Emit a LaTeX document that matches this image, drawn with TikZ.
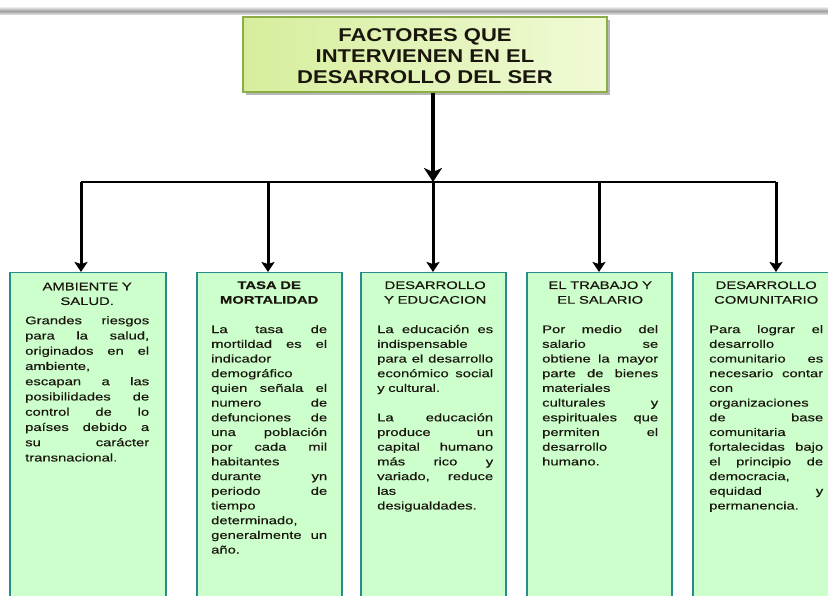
\documentclass[tikz,border=0pt]{standalone}
\usepackage{fontspec}
\usetikzlibrary{arrows.meta,shadows}
\newfontfamily\bodyfont[FakeStretch=1.345,FakeBold=0.4]{Liberation Sans}
\newfontfamily\titlefont[FakeStretch=1.19]{Liberation Sans}
\definecolor{boxfill}{RGB}{204,255,204}
\definecolor{boxline}{RGB}{40,140,140}
\definecolor{titleL}{RGB}{214,238,156}
\definecolor{titleR}{RGB}{240,250,214}
\definecolor{titleline}{RGB}{140,172,70}
\definecolor{txtcol}{RGB}{26,22,14}
\newcommand\Jline[1]{\hbox to\linewidth{\spaceskip=0pt \xspaceskip=0pt #1}}
\newcommand\Lline[1]{\hbox to\linewidth{#1\hfil}}
\newcommand\Cline[1]{\hbox to\linewidth{\hfil#1\hfil}}
\newcommand\Gap{\vskip14.7pt}
\begin{document}
\begin{tikzpicture}[x=1pt,y=-1pt,
  fbox/.style={draw=boxline, line width=1.4pt, fill=boxfill, rectangle, inner sep=0pt, minimum height=330pt, anchor=north},
  ftext/.style={anchor=north west, inner sep=0pt, text=txtcol, font=\bodyfont\fontsize{11}{14.7}\selectfont},
  conn/.style={line width=3pt, -{Stealth[length=10pt,width=13pt,inset=2pt]}},
  mainarrow/.style={line width=4.5pt, -{Stealth[length=14pt,width=18pt,inset=4pt]}},
  bar/.style={line width=2.5pt},
  titlebox/.style={draw=titleline, line width=1.2pt, left color=titleL, right color=titleR, minimum width=364pt, minimum height=75pt, inner sep=0pt, drop shadow={shadow xshift=3pt, shadow yshift=-3pt, fill=gray!70, opacity=0.8}},
  titletext/.style={anchor=north, inner sep=0pt, align=center, text=txtcol, font=\titlefont\bfseries\fontsize{18.5}{20.8}\selectfont}
]
\clip (0,0) rectangle (828,596);
\fill[white] (0,0) rectangle (828,596);
% top rule
\shade[top color=gray!15, bottom color=gray!15, middle color=gray!75] (0,7) rectangle (828,15);

% title
\node[titlebox] (title) at (425,54.5) {};
\node[titletext] (ttl) at (425,28.3) {FACTORES QUE\\INTERVIENEN EN EL\\DESARROLLO DEL SER};

% boxes
\node[fbox, minimum width=156pt] (b1) at (88,272) {};
\node[fbox, minimum width=145pt] (b2) at (269.5,272) {};
\node[fbox, minimum width=145pt] (b3) at (433.5,272) {};
\node[fbox, minimum width=145pt] (b4) at (599.5,272) {};
\node[fbox, minimum width=152pt] (b5) at (769,272) {};

% connectors
\coordinate (j) at (433,182);
\coordinate (c1) at (81,182);
\coordinate (c2) at (268,182);
\coordinate (c3) at (433,182);
\coordinate (c4) at (599,182);
\coordinate (c5) at (776,182);
\draw[bar] (c1) -- (c5);
\draw[mainarrow] (j |- title.south) -- (j);
\draw[conn] (c1) -- (c1 |- b1.north);
\draw[conn] (c2) -- (c2 |- b2.north);
\draw[conn] (c3) -- (c3 |- b3.north);
\draw[conn] (c4) -- (c4 |- b4.north);
\draw[conn] (c5) -- (c5 |- b5.north);

% texts
\node[ftext, text width=124pt] (t1) at (25,282.5) {%
\Cline{AMBIENTE Y}
\Cline{SALUD.}
\vskip4pt
\baselineskip=15.25pt
\Jline{Grandes riesgos}
\Jline{para la salud,}
\Jline{originados en el}
\Lline{ambiente,}
\Jline{escapan a las}
\Jline{posibilidades de}
\Jline{control de lo}
\Jline{países debido a}
\Jline{su carácter}
\Lline{transnacional.}};

\node[ftext, text width=116pt] (t2) at (211,281.1) {%
\Cline{\bfseries TASA DE}
\Cline{\bfseries MORTALIDAD}
\Gap
\Jline{La tasa de}
\Jline{mortildad es el}
\Lline{indicador}
\Lline{demográfico}
\Jline{quien señala el}
\Jline{numero de}
\Jline{defunciones de}
\Jline{una población}
\Jline{por cada mil}
\Lline{habitantes}
\Jline{durante yn}
\Jline{periodo de}
\Lline{tiempo}
\Lline{determinado,}
\Jline{generalmente un}
\Lline{año.}};

\node[ftext, text width=116pt] (t3) at (377,281.1) {%
\Cline{DESARROLLO}
\Cline{Y EDUCACION}
\Gap
\Jline{La educación es}
\Lline{indispensable}
\Jline{para el desarrollo}
\Jline{económico social}
\Lline{y cultural.}
\Gap
\Jline{La educación}
\Jline{produce un}
\Jline{capital humano}
\Jline{más rico y}
\Jline{variado, reduce}
\Lline{las}
\Lline{desigualdades.}};

\node[ftext, text width=116pt] (t4) at (542,281.1) {%
\Cline{EL TRABAJO Y}
\Cline{EL SALARIO}
\Gap
\Jline{Por medio del}
\Jline{salario se}
\Jline{obtiene la mayor}
\Jline{parte de bienes}
\Lline{materiales}
\Jline{culturales y}
\Jline{espirituales que}
\Jline{permiten el}
\Lline{desarrollo}
\Lline{humano.}};

\node[ftext, text width=114pt] (t5) at (709,281.1) {%
\Cline{DESARROLLO}
\Cline{COMUNITARIO}
\Gap
\Jline{Para lograr el}
\Lline{desarrollo}
\Jline{comunitario es}
\Jline{necesario contar}
\Lline{con}
\Lline{organizaciones}
\Jline{de base}
\Lline{comunitaria}
\Jline{fortalecidas bajo}
\Jline{el principio de}
\Lline{democracia,}
\Jline{equidad y}
\Lline{permanencia.}};
\end{tikzpicture}
\end{document}
